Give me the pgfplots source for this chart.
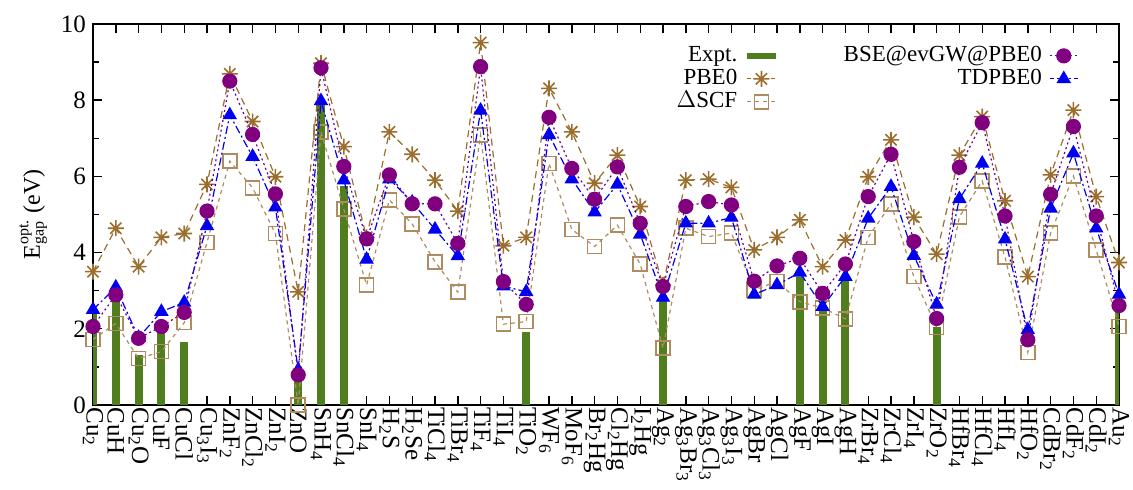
\documentclass[border=0pt]{standalone}
\usepackage{fontspec}
\setmainfont{Liberation Serif}
\usepackage{amsmath}
\usepackage{pgfplots}
\usepackage{pgfplotstable}
\pgfplotsset{compat=1.18}

\definecolor{expgreen}{RGB}{80,125,30}
\definecolor{pbebrown}{RGB}{155,110,45}
\definecolor{scftan}{RGB}{175,140,95}
\definecolor{bsepurple}{RGB}{128,0,128}
\definecolor{tdblue}{RGB}{0,0,240}

\pgfdeclareplotmark{gpstar}{%
  \pgfpathmoveto{\pgfqpoint{-\pgfplotmarksize}{0pt}}\pgfpathlineto{\pgfqpoint{\pgfplotmarksize}{0pt}}%
  \pgfpathmoveto{\pgfqpoint{0pt}{-\pgfplotmarksize}}\pgfpathlineto{\pgfqpoint{0pt}{\pgfplotmarksize}}%
  \pgfpathmoveto{\pgfqpoint{-.7071\pgfplotmarksize}{-.7071\pgfplotmarksize}}\pgfpathlineto{\pgfqpoint{.7071\pgfplotmarksize}{.7071\pgfplotmarksize}}%
  \pgfpathmoveto{\pgfqpoint{-.7071\pgfplotmarksize}{.7071\pgfplotmarksize}}\pgfpathlineto{\pgfqpoint{.7071\pgfplotmarksize}{-.7071\pgfplotmarksize}}%
  \pgfusepathqstroke}

% x  Expt  PBE0  DSCF  BSE  TD
\pgfplotstableread{
x  E     P     S     B     T
0  2.40  3.50  1.72  2.06  2.50
1  2.80  4.64  2.14  2.89  3.09
2  1.30  3.63  1.22  1.75  1.77
3  1.95  4.40  1.40  2.06  2.45
4  1.66  4.50  2.16  2.43  2.69
5  nan   5.79  4.27  5.09  4.70
6  nan   8.69  6.40  8.50  7.61
7  nan   7.44  5.70  7.10  6.52
8  nan   5.99  4.50  5.54  5.19
9  0.70  2.97  0.00  0.79  0.92
10 7.90  8.97  7.17  8.85  7.98
11 5.75  6.78  5.14  6.26  5.90
12 nan   4.40  3.15  4.36  3.82
13 nan   7.17  5.38  6.04  5.93
14 nan   6.58  4.75  5.28  5.32
15 nan   5.90  3.76  5.28  4.61
16 nan   5.09  2.96  4.24  3.91
17 nan   9.51  7.09  8.88  7.73
18 nan   4.18  2.12  3.24  3.12
19 1.92  4.40  2.19  2.64  2.97
20 nan   8.31  6.34  7.55  7.09
21 nan   7.17  4.61  6.21  5.93
22 nan   5.82  4.16  5.40  5.06
23 nan   6.56  4.72  6.25  5.79
24 nan   5.21  3.70  4.77  4.48
25 2.78  3.15  1.49  3.11  2.82
26 nan   5.90  4.64  5.21  4.77
27 nan   5.93  4.42  5.34  4.77
28 nan   5.71  4.51  5.25  4.92
29 nan   4.07  3.02  3.25  2.90
30 nan   4.40  3.24  3.65  3.15
31 3.37  4.86  2.71  3.85  3.48
32 2.50  3.63  2.55  2.93  2.58
33 3.28  4.33  2.26  3.70  3.37
34 nan   5.99  4.40  5.47  4.90
35 nan   6.96  5.28  6.58  5.73
36 nan   4.93  3.37  4.29  3.92
37 2.06  3.96  2.03  2.27  2.64
38 nan   6.56  4.94  6.24  5.41
39 nan   7.57  5.88  7.41  6.34
40 nan   5.36  3.88  4.96  4.35
41 nan   3.37  1.38  1.71  1.97
42 nan   6.04  4.51  5.53  5.16
43 nan   7.74  6.01  7.31  6.61
44 nan   5.47  4.07  4.96  4.64
45 2.45  3.74  2.06  2.61  2.90
}\gapdata

\begin{document}
\begin{tikzpicture}
\begin{axis}[
  name=ax, at={(0,0)}, anchor=south west,
  scale only axis, width=513pt, height=190.5pt,
  xmin=0, xmax=45, ymin=0, ymax=10,
  clip mode=individual,
  xtick={0,...,45},
  xticklabels={Cu\textsubscript{2}, CuH, Cu\textsubscript{2}O, CuF, CuCl, Cu\textsubscript{3}I\textsubscript{3}, ZnF\textsubscript{2}, ZnCl\textsubscript{2}, ZnI\textsubscript{2}, ZnO, SnH\textsubscript{4}, SnCl\textsubscript{4}, SnI\textsubscript{4}, H\textsubscript{2}S, H\textsubscript{2}Se, TiCl\textsubscript{4}, TiBr\textsubscript{4}, TiF\textsubscript{4}, TiI\textsubscript{4}, TiO\textsubscript{2}, WF\textsubscript{6}, MoF\textsubscript{6}, Br\textsubscript{2}Hg, Cl\textsubscript{2}Hg, I\textsubscript{2}Hg, Ag\textsubscript{2}, Ag\textsubscript{3}Br\textsubscript{3}, Ag\textsubscript{3}Cl\textsubscript{3}, Ag\textsubscript{3}I\textsubscript{3}, AgBr, AgCl, AgF, AgI, AgH, ZrBr\textsubscript{4}, ZrCl\textsubscript{4}, ZrI\textsubscript{4}, ZrO\textsubscript{2}, HfBr\textsubscript{4}, HfCl\textsubscript{4}, HfI\textsubscript{4}, HfO\textsubscript{2}, CdBr\textsubscript{2}, CdF\textsubscript{2}, CdI\textsubscript{2}, Au\textsubscript{2}},
  ytick={0,2,...,10}, minor ytick={1,3,...,9},
  tick align=inside, major tick length=4.5pt, minor tick length=3pt,
  every tick/.style={black, line width=0.7pt},
  axis line style={line width=0.8pt},
  xticklabel style={rotate=-90, anchor=west, font=\fontsize{12.5}{13}\selectfont, inner sep=1pt},
  yticklabel style={font=\fontsize{12.5}{13}\selectfont},
  /pgf/number format/assume math mode=true,
  ylabel={E$^{\text{opt.}}_{\text{gap}}$ (eV)},
  ylabel style={font=\fontsize{12}{13}\selectfont},
  legend columns=2,
  legend plot pos=right,
  legend cell align=right,
  legend image code/.code={\draw[mark repeat=2,mark phase=2,#1] plot coordinates {(0cm,0cm) (0.25cm,0cm) (0.5cm,0cm)};},
  legend style={at={(1,1)}, anchor=north east, xshift=-17pt, yshift=-8pt,
    draw=none, fill=none, font=\fontsize{11.5}{12}\selectfont,
    nodes={inner sep=0.5pt, text height=8pt, text depth=2.5pt},
    row sep=0pt, column sep=3pt,
    /tikz/column 2/.style={column sep=32pt}},
]
\addplot[ycomb, expgreen, line width=4pt, forget plot] table[x=x, y=E] {\gapdata};
\addplot[scftan, line width=0.6pt, dash pattern=on 2pt off 2pt, mark=square, mark size=3.5pt, mark options={solid, line width=0.8pt}, forget plot] table[x=x, y=S] {\gapdata};
\addplot[pbebrown, line width=0.6pt, dash pattern=on 3.5pt off 2.5pt, mark=gpstar, mark size=4pt, mark options={solid, line width=0.8pt}, forget plot] table[x=x, y=P] {\gapdata};
\addplot[tdblue, line width=0.6pt, dash pattern=on 4pt off 1.5pt on 1pt off 1.5pt, mark=triangle*, mark size=3.6pt, mark options={solid}, forget plot] table[x=x, y=T] {\gapdata};
\addplot[bsepurple!80!blue, line width=0.6pt, dash pattern=on 1pt off 1.5pt, mark=*, mark size=3.5pt, mark options={solid, fill=bsepurple, draw=bsepurple}, forget plot] table[x=x, y=B] {\gapdata};

\addlegendimage{legend image code/.code={\draw[expgreen, line width=3pt] (0cm,0cm) -- (0.5cm,0cm);}}
\addlegendentry{Expt.}
\addlegendimage{bsepurple!80!blue, line width=0.6pt, dash pattern=on 1pt off 1.5pt, mark=*, mark size=3.5pt, mark options={solid, fill=bsepurple, draw=bsepurple}}
\addlegendentry{BSE@evGW@PBE0}
\addlegendimage{pbebrown, line width=0.6pt, dash pattern=on 2pt off 2pt, mark=gpstar, mark size=4pt, mark options={solid, line width=0.8pt}}
\addlegendentry{PBE0}
\addlegendimage{tdblue, line width=0.6pt, dash pattern=on 2pt off 1.5pt on 1pt off 1.5pt, mark=triangle*, mark size=3.6pt, mark options={solid}}
\addlegendentry{TDPBE0}
\addlegendimage{scftan, line width=0.6pt, dash pattern=on 2pt off 2pt, mark=square, mark size=3.5pt, mark options={solid, line width=0.8pt}}
\addlegendentry{$\Delta$SCF}
\end{axis}
\pgfresetboundingbox
\path[use as bounding box] (-46.5pt,-42.5pt) rectangle (520pt,202.5pt);
\end{tikzpicture}
\end{document}
